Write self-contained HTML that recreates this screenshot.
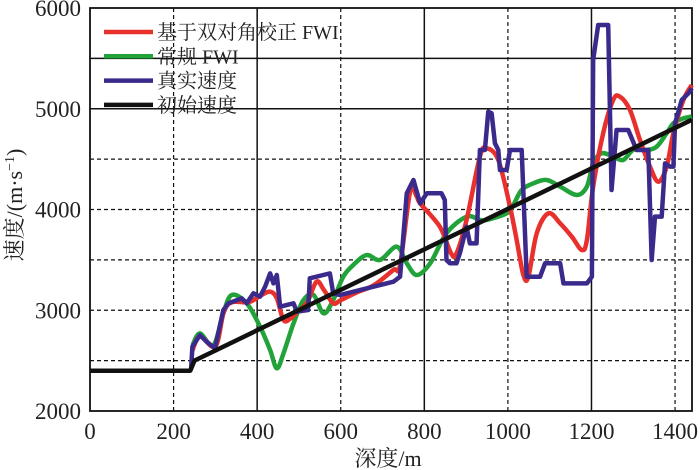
<!DOCTYPE html>
<html><head><meta charset="utf-8">
<style>
html,body{margin:0;padding:0;background:#fff;}
svg{display:block;font-family:"Liberation Serif","Noto Serif CJK SC",serif;}
</style></head>
<body>
<svg id="chart" width="700" height="470" viewBox="0 0 700 470"></svg>
<script>
const xTicks=[0,200,400,600,800,1000,1200,1400];
const yTicks=[2000,3000,4000,5000,6000];
const yGrid=[2500,3000,3500,4000,4500,5000,5500];
const seriesNames=["基于双对角校正 FWI","常规 FWI","真实速度","初始速度"];
const seriesColors=["#e8312d","#22a33a","#3b2a8c","#111111"];
const trueDepth=[242,245,263,279,299,319,331,363,375,391,407,419,431,439,447,455,487,495,522,526,574,582,598,726,742,758,774,790,806,841,849,853,861,877,885,901,909,925,933,945,953,961,969,977,981,997,1005,1033,1045,1077,1089,1125,1133,1189,1201,1204,1216,1240,1244,1248,1260,1268,1288,1308,1336,1344,1352,1368,1376,1388,1396,1400,1416,1432,1440];
const trueVel=[2424,2638,2754,2688,2622,3002,3069,3118,3069,3168,3135,3234,3366,3267,3350,3035,3069,2986,3002,3317,3366,3168,3151,3283,3333,4161,4293,4061,4161,4161,4094,3499,3466,3466,3565,3829,3664,3664,4591,4591,4971,4955,4657,4591,4392,4392,4591,4591,3333,3333,3466,3466,3267,3267,3333,5484,5831,5831,5020,4193,4789,4789,4789,4591,4591,3499,3929,3929,4458,4425,4425,4856,5087,5153,5203];
const redDepth=[245,263,300,320,340,380,410,431,447,463,480,500,520,542,560,582,600,640,680,726,742,766,782,790,837,864,877,901,933,949,977,1005,1021,1037,1049,1069,1097,1125,1153,1177,1189,1204,1228,1252,1268,1292,1316,1340,1360,1380,1396,1420,1440];
const redVel=[2600,2740,2640,2980,3080,3080,3150,3184,3120,2903,2920,3000,3080,3283,3200,3069,3100,3180,3250,3400,3450,4177,4128,4061,3830,3565,3565,3896,4525,4608,4492,4028,3697,3350,3333,3764,3962,3863,3730,3598,3697,4227,4757,5087,5120,4988,4690,4425,4276,4425,4757,5087,5236];
const greenDepth=[245,263,295,319,339,375,407,431,447,463,487,511,535,559,582,606,630,662,694,734,758,782,814,853,901,933,949,997,1013,1033,1061,1093,1125,1165,1189,1204,1224,1252,1276,1300,1332,1356,1380,1396,1420,1440];
const greenVel=[2650,2770,2650,2970,3151,3069,2836,2605,2424,2572,2870,3102,3151,2969,3102,3333,3449,3548,3499,3631,3466,3350,3466,3764,3929,3896,3896,3962,4045,4194,4260,4293,4227,4144,4227,4458,4558,4525,4492,4591,4591,4624,4757,4856,4905,4922];
const initDepth=[0,240,250,1440];
const initVel=[2400,2400,2500,4890];

const X0=90,XPX=0.4179,Y0=411,YPX=0.10075;
const sx=d=>X0+d*XPX, sy=v=>Y0-(v-2000)*YPX;
const L=90,R=692,T=8,B=411;
const svg=document.getElementById('chart');
const NS='http://www.w3.org/2000/svg';
function mk(tag,attrs,parent){const e=document.createElementNS(NS,tag);for(const k in attrs)e.setAttribute(k,attrs[k]);(parent||svg).appendChild(e);return e;}

const grid=mk('g',{});


xTicks.forEach(t=>{if(t===0)return;const dashed=(t/200)%2===1;
 const l=mk('line',{x1:sx(t),x2:sx(t),y1:T,y2:B,stroke:'#111','stroke-width':dashed?1.2:1.5,'stroke-dasharray':dashed?'4,3':'none'},grid);
 });
yGrid.forEach(t=>{const dashed=!(t===5000||t===5500);
 const l=mk('line',{x1:L,x2:R,y1:sy(t),y2:sy(t),stroke:'#111','stroke-width':dashed?1.2:1.5,'stroke-dasharray':dashed?'4,3':'none'},grid);
 });
const frame=mk('rect',{x:L,y:T,width:R-L,height:B-T,fill:'none',stroke:'#111','stroke-width':1.8});


xTicks.forEach(t=>{const e=mk('text',{x:sx(t),y:439,'text-anchor':'middle','font-size':23,fill:'#222'});e.textContent=t;
 });
yTicks.forEach(t=>{const e=mk('text',{x:81,y:sy(t)+8,'text-anchor':'end','font-size':23,fill:'#222'});e.textContent=t;
 });
const xt=mk('text',{x:388,y:466,'text-anchor':'middle','font-size':22,fill:'#222'});xt.textContent='深度/m';

const yt=mk('text',{x:0,y:0,'text-anchor':'middle','font-size':22,fill:'#222',transform:'translate(22,205) rotate(-90)'});
yt.innerHTML='速度/(m·s<tspan dy="-8" font-size="14">−1</tspan><tspan dy="8">)</tspan>';


function smoothPath(P){let d='M'+P[0][0]+','+P[0][1];
 for(let i=0;i<P.length-1;i++){const p0=P[i-1]||P[i],p1=P[i],p2=P[i+1],p3=P[i+2]||p2;
  const c1=[p1[0]+(p2[0]-p0[0])/6,p1[1]+(p2[1]-p0[1])/6],c2=[p2[0]-(p3[0]-p1[0])/6,p2[1]-(p3[1]-p1[1])/6];
  d+=' C'+c1+' '+c2+' '+p2;}return d;}
function line(ds,vs,color,w,name,smooth){const P=ds.map((d,i)=>[sx(d),sy(vs[i])]);
 const d=smooth?smoothPath(P):'M'+P.map(p=>p.join(',')).join(' L');
 const p=mk('path',{d:d,fill:'none',stroke:color,'stroke-width':w,'stroke-linejoin':'round'});
 }
line(greenDepth,greenVel,seriesColors[1],4.5,'conventional-fwi-line',true);
line(redDepth,redVel,seriesColors[0],4.5,'corrected-fwi-line',true);
line(trueDepth,trueVel,seriesColors[2],4.5,'true-velocity-line',false);
line(initDepth,initVel,seriesColors[3],4.5,'initial-velocity-line',false);

const lg=mk('g',{});

seriesNames.forEach((n,i)=>{const y=32+i*24.3;
 const l=mk('line',{x1:104,x2:153,y1:y,y2:y,stroke:seriesColors[i],'stroke-width':4.5},lg);
 
 const t=mk('text',{x:157,y:y+7,'font-size':20,fill:'#222'},lg);t.textContent=n;
 });
</script>
</body></html>
